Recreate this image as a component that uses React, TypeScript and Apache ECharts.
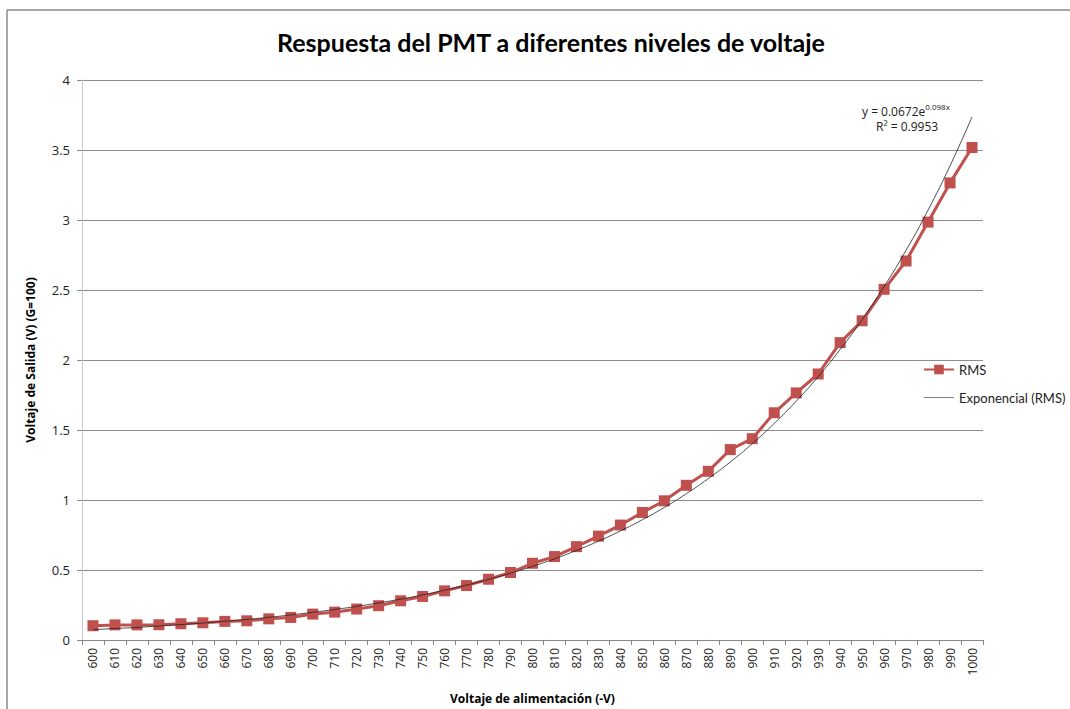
import React, { useEffect, useRef } from "react";
import * as echarts from "echarts";

const categories = [
  "600","610","620","630","640","650","660","670","680","690",
  "700","710","720","730","740","750","760","770","780","790",
  "800","810","820","830","840","850","860","870","880","890",
  "900","910","920","930","940","950","960","970","980","990","1000",
];

const rmsValues = [
  0.102, 0.108, 0.108, 0.109, 0.116, 0.123, 0.133, 0.137, 0.151, 0.161,
  0.185, 0.199, 0.221, 0.245, 0.28, 0.311, 0.351, 0.389, 0.434, 0.482,
  0.548, 0.596, 0.667, 0.742, 0.821, 0.911, 0.994, 1.105, 1.205, 1.36,
  1.438, 1.623, 1.765, 1.9, 2.124, 2.28, 2.505, 2.707, 2.985, 3.265, 3.518,
];

const trendValues = [
  0.074, 0.082, 0.090, 0.100, 0.110, 0.121, 0.134, 0.147, 0.162, 0.179,
  0.198, 0.218, 0.240, 0.265, 0.292, 0.322, 0.356, 0.392, 0.433, 0.477,
  0.526, 0.580, 0.640, 0.706, 0.779, 0.859, 0.947, 1.045, 1.153, 1.271,
  1.402, 1.547, 1.706, 1.881, 2.075, 2.289, 2.525, 2.784, 3.071, 3.387, 3.736,
];

const yTicks = { min: 0, max: 4, interval: 0.5 };

const titleText = "Respuesta del PMT a diferentes niveles de voltaje";
const xName = "Voltaje de alimentación (-V)";
const yName = "Voltaje de Salida (V) (G=100)";
const seriesNames = ["RMS", "Exponencial (RMS)"];

export default function App() {
  const ref = useRef<HTMLDivElement>(null);
  useEffect(() => {
    if (!ref.current) return;
    const chart = echarts.init(ref.current, null, { renderer: "svg" });
    const font = "'Open Sans', 'DejaVu Sans', sans-serif";
    const narrow = "Lato, 'Open Sans', sans-serif";
    chart.setOption({
      animation: false,
      backgroundColor: "#ffffff",
      textStyle: { fontFamily: font },
      title: {
        text: titleText,
        left: 546,
        textAlign: "center",
        top: 24,
        textStyle: { fontFamily: narrow, fontSize: 25, fontWeight: "bold", color: "#000" },
      },
      legend: {
        orient: "vertical",
        left: 923,
        top: 363,
        padding: 0,
        itemGap: 15,
        itemWidth: 30,
        itemHeight: 12,
        textStyle: { fontSize: 13, color: "#222", fontFamily: narrow },
        data: [
          { name: seriesNames[0] },
          { name: seriesNames[1], icon: "path://M0,0 L40,0 L40,1 L0,1 Z", itemStyle: { color: "#555" } },
        ],
      },
      grid: { left: 82, right: 87, top: 80, bottom: 67, containLabel: false },
      xAxis: {
        type: "category",
        data: categories,
        boundaryGap: true,
        name: xName,
        nameLocation: "middle",
        nameGap: 52,
        nameTextStyle: { fontSize: 12, fontWeight: "bold", color: "#000", fontFamily: font },
        axisLine: { lineStyle: { color: "#888", width: 1 } },
        axisTick: { show: true, interval: 0, length: 5, lineStyle: { color: "#888" } },
        axisLabel: { interval: 0, rotate: 90, fontSize: 12, color: "#222", margin: 8, fontFamily: font },
        splitLine: { show: false },
      },
      yAxis: {
        type: "value",
        min: yTicks.min,
        max: yTicks.max,
        interval: yTicks.interval,
        name: yName,
        nameLocation: "middle",
        nameGap: 46,
        nameTextStyle: { fontSize: 12, fontWeight: "bold", color: "#000", fontFamily: font },
        axisLine: { show: true, lineStyle: { color: "#c8c8c8", width: 1 } },
        axisTick: { show: true, length: 5, lineStyle: { color: "#888" } },
        axisLabel: { fontSize: 13, color: "#222", margin: 12, fontFamily: font },
        splitLine: { show: true, lineStyle: { color: "#8c8c8c", width: 1 } },
      },
      series: [
        {
          name: seriesNames[0],
          type: "line",
          data: rmsValues,
          symbol: "rect",
          symbolSize: 11,
          lineStyle: { color: "#C0504D", width: 3 },
          itemStyle: { color: "#C0504D" },
          z: 2,
        },
        {
          name: seriesNames[1],
          type: "line",
          data: trendValues,
          smooth: true,
          symbol: "none",
          lineStyle: { color: "#222", width: 0.8 },
          itemStyle: { color: "#555" },
          z: 3,
        },
      ],
      graphic: [
        { type: "line", shape: { x1: 7, y1: 10, x2: 1070, y2: 10 }, style: { stroke: "#8a8a8a", lineWidth: 1.5 } },
        { type: "line", shape: { x1: 7, y1: 10, x2: 7, y2: 709 }, style: { stroke: "#8a8a8a", lineWidth: 1.5 } },
        {
          type: "text",
          left: 862,
          top: 102,
          style: {
            text: "{b|y = 0.0672e}{s|0.098x}",
            rich: {
              b: { fontSize: 12, fill: "#222", fontFamily: font, verticalAlign: "bottom" },
              s: { fontSize: 8, fill: "#222", fontFamily: font, padding: [0, 0, 7, 0], verticalAlign: "bottom" },
            },
          },
        },
        {
          type: "text",
          left: 876,
          top: 120,
          style: { text: "R² = 0.9953", fontSize: 12, fill: "#222", fontFamily: font },
        },
      ],
    });
    return () => chart.dispose();
  }, []);
  return <div ref={ref} style={{ position: "fixed", left: 0, top: 0, width: 1070, height: 709 }} />;
}
